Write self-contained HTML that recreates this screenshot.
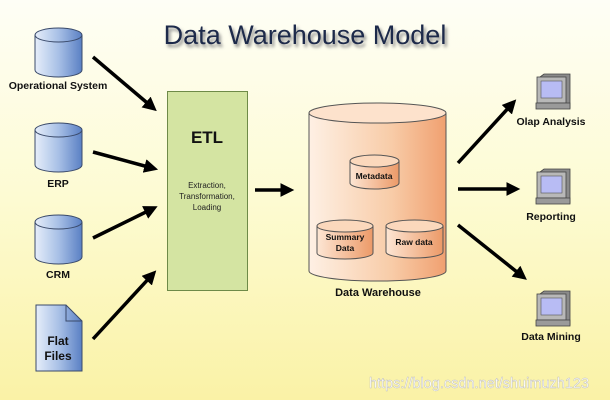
<!DOCTYPE html>
<html><head><meta charset="utf-8"><style>
html,body{margin:0;padding:0;width:610px;height:400px;overflow:hidden}
svg{display:block}
text{font-family:"Liberation Sans",sans-serif}
</style></head><body>
<svg width="610" height="400" viewBox="0 0 610 400" xmlns="http://www.w3.org/2000/svg">
<defs>
<linearGradient id="bg" x1="0" y1="0" x2="0" y2="1"><stop offset="0" stop-color="#fefef6"/><stop offset="0.5" stop-color="#fdfbd2"/><stop offset="1" stop-color="#faf2a6"/></linearGradient>
<linearGradient id="blue" x1="0" y1="0" x2="1" y2="0"><stop offset="0" stop-color="#e6eefa"/><stop offset="0.5" stop-color="#a8c0e6"/><stop offset="1" stop-color="#5a80c4"/></linearGradient>
<linearGradient id="peach" x1="0" y1="0" x2="1" y2="0"><stop offset="0" stop-color="#fef0e4"/><stop offset="0.6" stop-color="#f8cca8"/><stop offset="1" stop-color="#f0a070"/></linearGradient>
<linearGradient id="peach2" x1="0" y1="0" x2="1" y2="0"><stop offset="0" stop-color="#fde6d4"/><stop offset="1" stop-color="#ec9a68"/></linearGradient>
<marker id="ah" markerWidth="4" markerHeight="4" refX="2.2" refY="2" orient="auto" markerUnits="strokeWidth"><path d="M0,0 L4,2 L0,4 z" fill="#000"/></marker>
<filter id="sh"><feGaussianBlur stdDeviation="1.5"/></filter>
</defs>
<rect width="610" height="400" fill="url(#bg)"/>
<text x="305" y="44" font-size="27" fill="#888" text-anchor="middle" filter="url(#sh)" transform="translate(2,3)">Data Warehouse Model</text>
<text x="305" y="44" font-size="27" fill="#1d2a4a" text-anchor="middle">Data Warehouse Model</text>

<g stroke="#3a4a6a" stroke-width="1" fill="url(#blue)">
<path d="M35,35 v35 a23.5,7 0 0 0 47,0 v-35"/><ellipse cx="58.5" cy="35" rx="23.5" ry="7"/>
<path d="M35,130 v35 a23.5,7 0 0 0 47,0 v-35"/><ellipse cx="58.5" cy="130" rx="23.5" ry="7"/>
<path d="M35,222 v35 a23.5,7 0 0 0 47,0 v-35"/><ellipse cx="58.5" cy="222" rx="23.5" ry="7"/>
<path d="M36,305 h30 l16,16 v50 h-46 z"/>
</g>
<path d="M66,305 v16 h16" fill="none" stroke="#3a4a6a"/>
<g font-weight="bold" font-size="10.5" fill="#111" text-anchor="middle">
<text x="58" y="89">Operational System</text>
<text x="58" y="187">ERP</text>
<text x="58" y="278">CRM</text>
<text x="58" y="345" font-size="12">Flat</text>
<text x="58" y="360" font-size="12">Files</text>
</g>

<rect x="167.5" y="91.5" width="80" height="199" fill="#d4e4a2" stroke="#6e8a48"/>
<text x="207" y="143" font-size="17" font-weight="bold" text-anchor="middle" fill="#111">ETL</text>
<g font-size="8" text-anchor="middle" fill="#222">
<text x="207" y="188">Extraction,</text><text x="207" y="199">Transformation,</text><text x="207" y="210">Loading</text></g>

<g stroke="#000" stroke-width="3.5" marker-end="url(#ah)">
<line x1="93" y1="57" x2="152" y2="107"/>
<line x1="93" y1="152" x2="152" y2="168"/>
<line x1="93" y1="238" x2="152" y2="209"/>
<line x1="93" y1="339" x2="152" y2="275"/>
<line x1="255" y1="190" x2="288" y2="190"/>
<line x1="458" y1="163" x2="512" y2="104"/>
<line x1="458" y1="189" x2="514" y2="189"/>
<line x1="458" y1="225" x2="522" y2="276"/>
</g>

<g stroke="#555" stroke-width="1">
<path d="M309,113 v158 a68.5,10 0 0 0 137,0 v-158" fill="url(#peach)"/>
<ellipse cx="377.5" cy="113" rx="68.5" ry="10" fill="#fde2cc"/>
<path d="M350,161 v22 a24.5,6 0 0 0 49,0 v-22" fill="url(#peach2)"/><ellipse cx="374.5" cy="161" rx="24.5" ry="6" fill="#fbd8bc"/>
<path d="M317,226 v27 a28,6 0 0 0 56,0 v-27" fill="url(#peach2)"/><ellipse cx="345" cy="226" rx="28" ry="6" fill="#fbd8bc"/>
<path d="M386,226 v26 a28.5,6 0 0 0 57,0 v-26" fill="url(#peach2)"/><ellipse cx="414.5" cy="226" rx="28.5" ry="6" fill="#fbd8bc"/>
</g>
<g font-weight="bold" fill="#111" text-anchor="middle">
<text x="374" y="179" font-size="8.5">Metadata</text>
<text x="345" y="240" font-size="8.5">Summary</text>
<text x="345" y="251" font-size="8.5">Data</text>
<text x="414" y="245" font-size="8.5">Raw data</text>
<text x="378" y="296" font-size="11">Data Warehouse</text>
</g>

<g id="pc">
<path d="M540,77 l4,-3 h26 v34 h-30 z" fill="#8a8a8a" stroke="#444" stroke-width="0.8"/>
<rect x="537" y="77" width="29" height="26" fill="#b8b8b8" stroke="#444" stroke-width="0.8"/>
<rect x="541" y="81" width="21" height="17" fill="#b8bcf4" stroke="#555" stroke-width="0.6"/>
<rect x="536" y="103" width="34" height="6" fill="#9a9a9a" stroke="#444" stroke-width="0.8"/>
</g>
<use href="#pc" transform="translate(0,95)"/>
<use href="#pc" transform="translate(0,217)"/>
<g font-weight="bold" font-size="10.5" fill="#111" text-anchor="middle">
<text x="551" y="125">Olap Analysis</text>
<text x="551" y="220">Reporting</text>
<text x="551" y="340">Data Mining</text>
</g>
<text x="479" y="388" font-size="14.5" fill="#fff" stroke="#bbb" stroke-width="0.4" text-anchor="middle">https://blog.csdn.net/shuimuzh123</text>
</svg>
</body></html>
